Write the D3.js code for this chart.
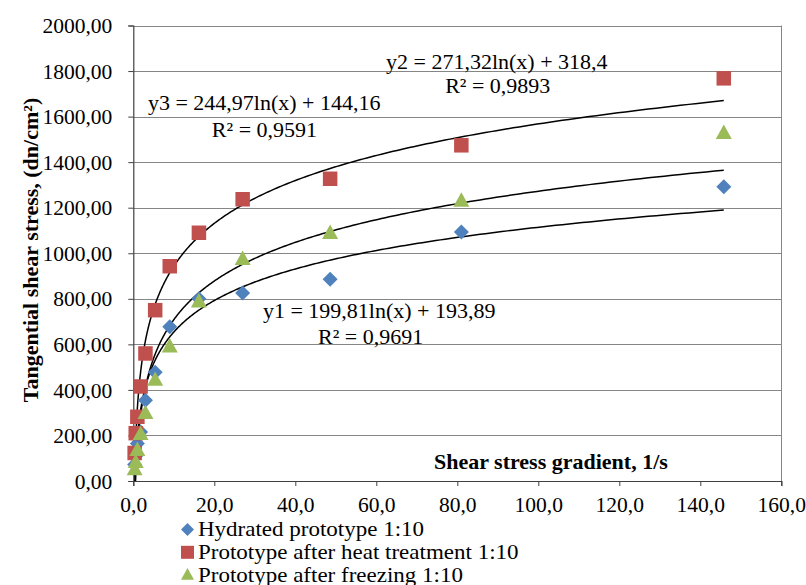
<!DOCTYPE html>
<html>
<head>
<meta charset="utf-8">
<script src="https://cdn.jsdelivr.net/npm/d3@7"></script>
<style>
  html, body { margin: 0; padding: 0; background: #fff; }
  svg { display: block; }
  text { font-family: "Liberation Serif", "Times New Roman", serif; fill: #000; }
</style>
</head>
<body>
<svg id="chart" width="806" height="585"></svg>
<script>
// ---- data ----
const gradient = [0.333, 0.6, 1.0, 1.8, 3.0, 5.4, 9.0, 16.2, 27.0, 48.6, 81.0, 145.8];
const hydrated = [72, 110, 165, 215, 355, 477, 677, 800, 825, 886, 1093, 1292];
const heatTreated = [123, 210, 282, 415, 560, 750, 943, 1090, 1237, 1327, 1474, 1768];
const frozen = [50, 82, 135, 205, 297, 443, 590, 787, 974, 1088, 1230, 1527];

const seriesNames = ["Hydrated prototype 1:10", "Prototype after heat treatment 1:10", "Prototype after freezing 1:10"];
const seriesColors = ["#4F81BD", "#C0504D", "#9BBB59"];
const seriesShapes = ["diamond", "square", "triangle"];

// logarithmic trend lines: y = a*ln(x) + b
const trendA = [199.81, 271.32, 244.97];
const trendB = [193.89, 318.4, 144.16];

const xTicks = [0, 20, 40, 60, 80, 100, 120, 140, 160];
const yTicks = [0, 200, 400, 600, 800, 1000, 1200, 1400, 1600, 1800, 2000];

// annotation texts (positions in data units)
const annoText = ["y2 = 271,32ln(x) + 318,4", "R² = 0,9893", "y3 = 244,97ln(x) + 144,16", "R² = 0,9591", "y1 = 199,81ln(x) + 193,89", "R² = 0,9691"];
const annoX = [62.4, 77.0, 3.6, 19.4, 32.0, 45.6];
const annoY = [1811, 1702, 1627, 1509, 715, 601];

// ---- layout ----
const svg = d3.select("#chart");
const pLeft = 133.3, pRight = 781.3, pTop = 25.5, pBottom = 481;
const x = d3.scaleLinear().domain([0, 160]).range([pLeft, pRight]);
const y = d3.scaleLinear().domain([0, 2000]).range([pBottom, pTop]);

svg.append("defs").append("clipPath").attr("id", "plotclip")
  .append("rect").attr("x", pLeft).attr("y", pTop).attr("width", pRight - pLeft).attr("height", pBottom - pTop);

// gridlines
svg.append("g").selectAll("line").data(yTicks.filter(d => d > 0)).join("line")
  .attr("x1", pLeft).attr("x2", pRight)
  .attr("y1", d => Math.round(y(d)) + 0.5).attr("y2", d => Math.round(y(d)) + 0.5)
  .attr("stroke", "#868686").attr("stroke-width", 1);
// right border
svg.append("line").attr("x1", Math.round(pRight) + 0.5).attr("x2", Math.round(pRight) + 0.5)
  .attr("y1", y(2000)).attr("y2", y(0)).attr("stroke", "#868686").attr("stroke-width", 1);

// axes
const fmtX = d => d3.format(".1f")(d).replace(".", ",");
const fmtY = d => d3.format(".2f")(d).replace(".", ",");

const xAxis = svg.append("g").attr("transform", `translate(0,${pBottom})`)
  .call(d3.axisBottom(x).tickValues(xTicks).tickFormat(fmtX).tickSize(5).tickPadding(8));
const yAxis = svg.append("g").attr("transform", `translate(${pLeft},0)`)
  .call(d3.axisLeft(y).tickValues(yTicks).tickFormat(fmtY).tickSize(5).tickPadding(16));
[xAxis, yAxis].forEach(g => {
  g.select(".domain").attr("stroke", "#404040").attr("stroke-width", 1.2);
  g.selectAll(".tick line").attr("stroke", "#404040");
  g.selectAll("text").attr("font-family", "Liberation Serif, Times New Roman, serif")
    .attr("font-size", 21.5).attr("fill", "#000");
});
xAxis.selectAll("text").attr("dy", "0.85em");
yAxis.selectAll("text").attr("dy", "0.33em");

// trend lines
const trendG = svg.append("g").attr("clip-path", "url(#plotclip)");
const xMin = d3.min(gradient), xMax = d3.max(gradient);
trendA.forEach((a, i) => {
  const b = trendB[i];
  const pts = d3.range(0, 401).map(k => {
    const xv = Math.exp(Math.log(xMin) + (Math.log(xMax) - Math.log(xMin)) * k / 400);
    return [xv, a * Math.log(xv) + b];
  });
  trendG.append("path")
    .attr("d", d3.line().x(d => x(d[0])).y(d => y(d[1]))(pts))
    .attr("fill", "none").attr("stroke", "#000").attr("stroke-width", 1.5);
});

// markers
function shapePath(shape, size) {
  const s = size / 2;
  if (shape === "diamond") return `M0,${-s}L${s},0L0,${s}L${-s},0Z`;
  if (shape === "square") return `M${-s},${-s}H${s}V${s}H${-s}Z`;
  const h = size * 0.9;
  return `M0,${-h * 0.6}L${s},${h * 0.4}L${-s},${h * 0.4}Z`;
}
const seriesVals = [hydrated, heatTreated, frozen];
const markerSize = [15, 14.5, 16];
seriesVals.forEach((vals, i) => {
  svg.append("g").selectAll("path").data(vals).join("path")
    .attr("transform", (d, j) => `translate(${x(gradient[j])},${y(d)})`)
    .attr("d", shapePath(seriesShapes[i], markerSize[i]))
    .attr("fill", seriesColors[i]);
});

// trend annotations
svg.append("g").selectAll("text").data(annoText).join("text")
  .attr("x", (d, i) => x(annoX[i])).attr("y", (d, i) => y(annoY[i]))
  .attr("font-size", 22).text(d => d);

// axis titles
svg.append("text").attr("x", 434).attr("y", 469)
  .attr("font-size", 22).attr("font-weight", "bold").text("Shear stress gradient, 1/s");
svg.append("text").attr("transform", "translate(38,250) rotate(-90)")
  .attr("text-anchor", "middle").attr("font-size", 22).attr("font-weight", "bold")
  .text("Tangential shear stress, (dn/cm²)");

// legend
const legend = svg.append("g");
seriesNames.forEach((name, i) => {
  const cy = 529.5 + i * 22.8;
  legend.append("path").attr("transform", `translate(187.5,${cy})`)
    .attr("d", shapePath(seriesShapes[i], 13)).attr("fill", seriesColors[i]);
  legend.append("text").attr("transform", `translate(198,${cy + 6.5}) scale(1.15,1)`)
    .attr("font-size", 20).text(name);
});
</script>
</body>
</html>
